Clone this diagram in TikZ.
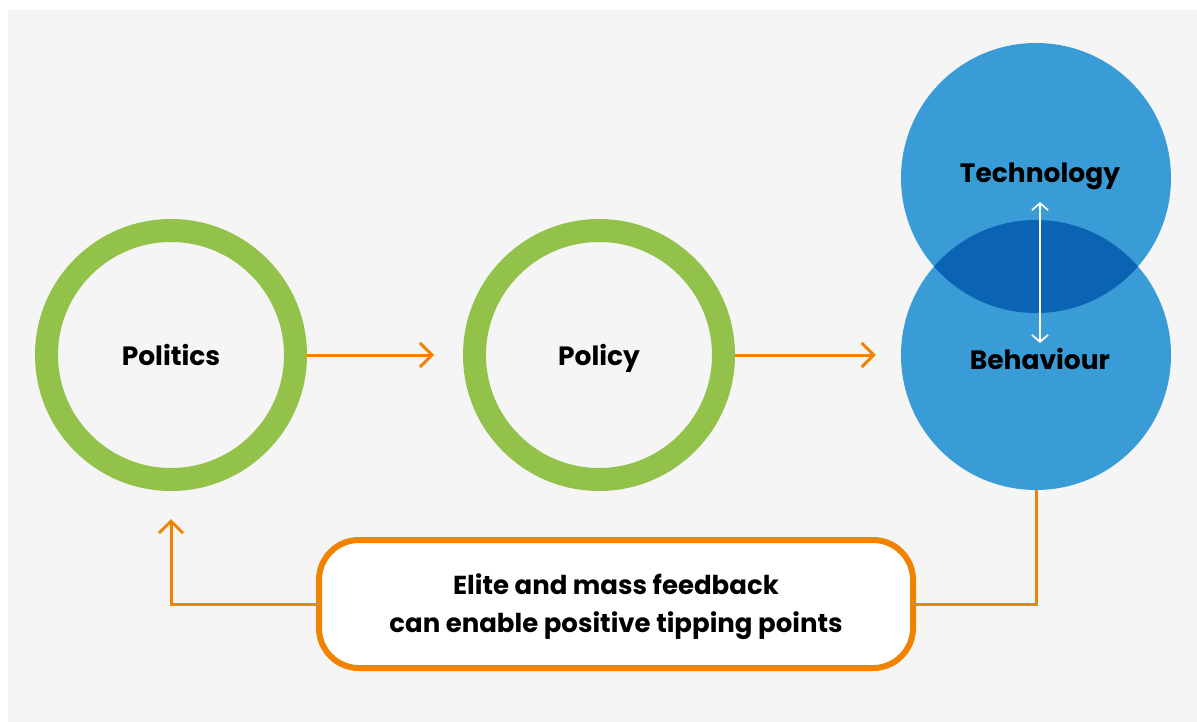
\documentclass[tikz,border=0pt]{standalone}
\usepackage{fontspec}
\setmainfont{Poppins}
\usetikzlibrary{arrows.meta}

\definecolor{panelgray}{HTML}{F5F5F5}
\definecolor{ringgreen}{HTML}{92C24A}
\definecolor{flow}{HTML}{F08300}
\definecolor{lightblue}{HTML}{3A9CD6}
\definecolor{deepblue}{HTML}{0B63B3}

\tikzset{
  ring/.style={circle, draw=ringgreen, line width=23pt, minimum size=249pt,
    inner sep=0pt, text depth=0pt, font=\bfseries\fontsize{26.5}{30}\selectfont},
  blob/.style={circle, fill=lightblue, minimum size=270pt, inner sep=0pt},
  lbl/.style={anchor=base, font=\bfseries\fontsize{26.5}{30}\selectfont},
  flowline/.style={draw=flow, line width=3pt},
  feedbox/.style={rectangle, draw=flow, fill=white, line width=6pt,
    rounded corners=40pt, minimum width=594pt, minimum height=128pt,
    align=center, font=\bfseries\fontsize{26}{38}\selectfont},
}

\begin{document}
\begin{tikzpicture}[x=1pt,y=-1pt,
    >={Straight Barb[length=12pt,width=24pt]}]
  \useasboundingbox (0,0) rectangle (1197,722);
  \fill[panelgray] (8,10) rectangle (1197,722);

  % Left: the two green rings
  \node[ring] (politics) at (171,355) {Politics};
  \node[ring] (policy) at (599,355) {Policy};

  % Right: overlapping blue circles
  \node[blob] (tech) at (1036,178) {};
  \node[blob] (behav) at (1036,355) {};
  \begin{scope}
    \clip (tech.center) circle [radius=135pt];
    \fill[deepblue] (behav.center) circle [radius=135pt];
  \end{scope}
  \node[lbl] (techtxt) at (1040,183) {Technology};
  \node[lbl] (behavtxt) at (1040,369) {Behaviour};

  % two-way link between technology and behaviour
  \coordinate (swaptop) at (1040,202);
  \coordinate (swapbot) at (1040,343);
  \draw[white, line width=1.7pt,
    {Straight Barb[length=7pt,width=16pt]}-{Straight Barb[length=7pt,width=16pt]}]
    (swaptop) -- (swapbot);

  % Forward arrows
  \draw[flowline,->,shorten >=29pt] (politics) -- (policy);
  \draw[flowline,->,shorten >=25pt] (policy) -- (behav);

  % Feedback loop
  \node[feedbox] (feedback) at (616,604) {};
  \node[align=center, font=\bfseries\fontsize{26}{38}\selectfont]
    (feedtxt) at (616,607) {Elite and mass feedback\\can enable positive tipping points};
  \draw[flowline] (behav.south) |- (feedback.east);
  \draw[flowline,->,shorten >=28pt] (feedback.west) -| (politics.south);
\end{tikzpicture}
\end{document}
